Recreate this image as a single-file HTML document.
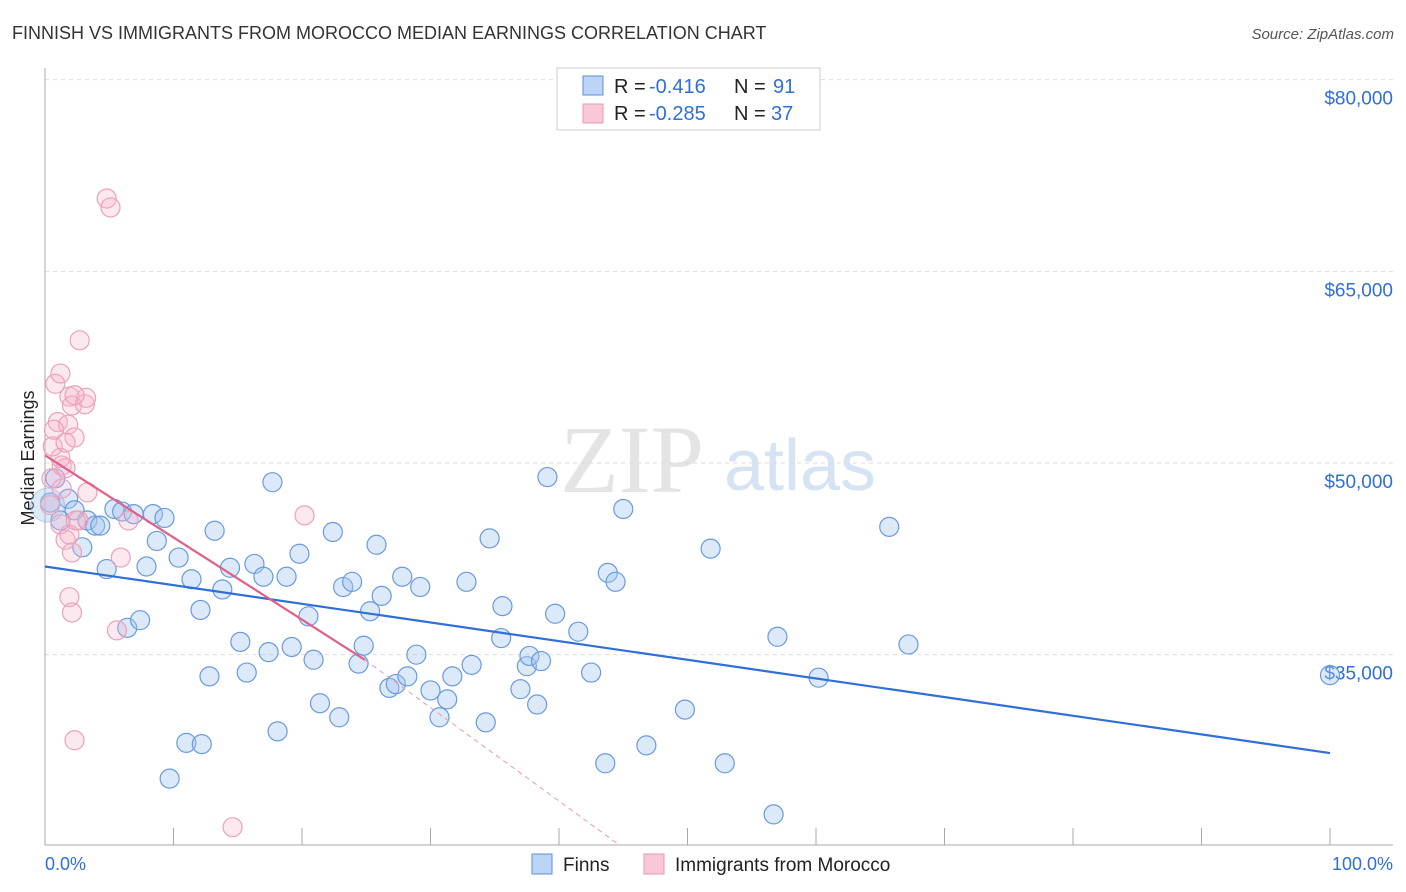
<!DOCTYPE html>
<html><head><meta charset="utf-8"><style>
body{margin:0;background:#fff;font-family:"Liberation Sans",sans-serif;}
#wrap{position:relative;width:1406px;height:892px;overflow:hidden;}
</style></head><body>
<div id="wrap">
<svg id="svg" width="1406" height="892" xmlns="http://www.w3.org/2000/svg">
<text x="12" y="39" font-size="18" fill="#333">FINNISH VS IMMIGRANTS FROM MOROCCO MEDIAN EARNINGS CORRELATION CHART</text>
<text x="1394" y="39" font-size="15" fill="#555" text-anchor="end" font-style="italic">Source: ZipAtlas.com</text>
<text x="0" y="0" font-size="18" fill="#222" transform="translate(34,458) rotate(-90)" text-anchor="middle">Median Earnings</text>
<text x="632" y="492" font-size="96" fill="#e4e4e4" text-anchor="middle" font-family="Liberation Serif,serif">ZIP</text>
<text x="800" y="490" font-size="72" fill="#d6e3f3" text-anchor="middle">atlas</text>
<g id="grid"></g><g id="axes"></g><g id="pts"></g><g id="trend"></g>
<g>
<rect x="557" y="68" width="263" height="62" fill="#fff" stroke="#ccc"/>
<rect x="583" y="76" width="20" height="19" fill="#bcd4f5" stroke="#5b8fd8"/>
<rect x="583" y="104" width="20" height="19" fill="#f9c8d6" stroke="#e89ab0"/>
<text y="93" font-size="20" fill="#222"><tspan x="614">R =</tspan><tspan x="649" fill="#2f6fd6">-0.416</tspan><tspan x="734">N =</tspan><tspan x="773" fill="#2f6fd6">91</tspan></text>
<text y="120" font-size="20" fill="#222"><tspan x="614">R =</tspan><tspan x="649" fill="#2f6fd6">-0.285</tspan><tspan x="734">N =</tspan><tspan x="771" fill="#2f6fd6">37</tspan></text>
</g>
<g>
<rect x="532" y="854" width="20" height="20" fill="#bcd4f5" stroke="#5b8fd8"/>
<text x="563" y="871" font-size="19" fill="#222">Finns</text>
<rect x="644" y="854" width="20" height="20" fill="#f9c8d6" stroke="#e89ab0"/>
<text x="675" y="871" font-size="19" fill="#222">Immigrants from Morocco</text>
</g>
<text x="45" y="870" font-size="18" fill="#2f6fd6">0.0%</text>
<text x="1393" y="870" font-size="18" fill="#2f6fd6" text-anchor="end">100.0%</text>
</svg>
</div>
<script>
const yTicks=[35000,50000,65000,80000];
const yTickLabels=["$35,000","$50,000","$65,000","$80,000"];
const xTicks=[0,10,20,30,40,50,60,70,80,90,100];
const finnsX=[0.4,0.8,1.2,1.8,2.3,3.3,3.9,4.3,2.9,4.8,5.4,6.0,6.4,6.9,7.4,7.9,8.4,8.7,9.3,9.7,10.4,11.0,11.4,12.1,12.2,12.8,13.2,13.8,14.4,15.2,15.7,16.3,17.0,17.4,17.7,18.1,18.8,19.2,19.8,20.5,20.9,21.4,22.4,22.9,23.2,23.9,24.4,24.8,25.3,25.8,26.2,26.8,27.3,27.8,28.2,28.9,29.2,30.0,30.7,31.3,31.7,32.8,33.2,34.3,34.6,35.6,35.5,37.0,37.5,37.7,38.3,38.6,39.1,39.7,41.5,42.5,43.6,43.8,44.4,45.0,46.8,49.8,51.8,52.9,57.0,56.7,60.2,65.7,67.2,100,0.2];
const finnsY=[46900,48800,45500,47200,46300,45500,45100,45100,43400,41700,46400,46200,37100,46000,37700,41900,46000,43900,45700,25300,42600,28100,40900,38500,28000,33300,44700,40100,41800,36000,33600,42100,41100,35200,48500,29000,41100,35600,42900,38000,34600,31200,44600,30100,40300,40700,34300,35700,38400,43600,39600,32400,32700,41100,33300,35000,40300,32200,30100,31500,33300,40700,34200,29700,44100,38800,36300,32300,34100,34900,31100,34500,48900,38200,36800,33600,26500,41400,40700,46400,27900,30700,43300,26500,36400,22500,33200,45000,35800,33400,46700];
const moroccoX=[0.4,0.5,0.8,1.0,1.2,1.3,1.2,1.3,1.9,1.8,2.1,2.3,2.1,1.9,2.3,2.1,2.6,3.1,3.2,3.3,2.7,4.8,5.1,5.6,5.9,6.5,20.2,14.6,1.6,1.2,0.6,1.6,1.9,2.4,0.7,1.6,2.3];
const moroccoY=[46700,48800,56200,53200,57000,49800,45200,48000,55200,53000,54500,52000,38300,39500,28300,43000,45500,54600,55100,47700,59600,70700,70000,36900,42600,45500,45900,21500,49600,50400,51300,44000,44400,45500,52600,51600,55300];
const finnsTrend=[41900,27300];
const moroccoTrend=[50600,-643];
const NS="http://www.w3.org/2000/svg";
const X=p=>45+p*12.85, Y=v=>463-(v-50000)*0.012778;
function mk(t,a,par){const e=document.createElementNS(NS,t);for(const k in a)e.setAttribute(k,a[k]);document.getElementById(par).appendChild(e);return e;}
yTicks.forEach((v,i)=>{
 const g=mk('line',{x1:45,x2:1393,y1:Y(v),y2:Y(v),stroke:'#ddd','stroke-dasharray':'4,4'},'grid');
 
 
 const t=mk('text',{x:1393,y:Y(v)+25,'font-size':19,fill:'#2f6fd6','text-anchor':'end'},'grid');
 t.textContent=yTickLabels[i];
 
 
});
const ax=mk('line',{x1:45,x2:45,y1:68,y2:845,stroke:'#aaa'},'axes');


const bx=mk('line',{x1:45,x2:1393,y1:845,y2:845,stroke:'#aaa'},'axes');


xTicks.forEach(p=>{
 const t=mk('line',{x1:X(p),x2:X(p),y1:828,y2:845,stroke:'#aaa'},'axes');
 
 
});
finnsX.forEach((p,i)=>{
 const c=mk('circle',{cx:X(p),cy:Y(finnsY[i]),r:(i===finnsX.length-1?17:9.5),fill:'rgba(160,196,240,0.38)',stroke:(i===finnsX.length-1?'rgba(91,143,216,0.3)':'#6a9ade'),'stroke-width':1.2},'pts');
 
 
});
moroccoX.forEach((p,i)=>{
 const c=mk('circle',{cx:X(p),cy:Y(moroccoY[i]),r:9.5,fill:'rgba(246,180,202,0.3)',stroke:'#eca2b9','stroke-width':1.2},'pts');
 
 
});
const bl=mk('line',{x1:X(0),y1:Y(finnsTrend[0]),x2:X(100),y2:Y(finnsTrend[1]),stroke:'#2f6fd6','stroke-width':2.2},'trend');


const mEnd=24.9, mLim=44.7;
const pl=mk('line',{x1:X(0),y1:Y(moroccoTrend[0]),x2:X(mEnd),y2:Y(moroccoTrend[0]+moroccoTrend[1]*mEnd),stroke:'#e0608a','stroke-width':2.2},'trend');


const pd=mk('line',{x1:X(mEnd),y1:Y(moroccoTrend[0]+moroccoTrend[1]*mEnd),x2:X(mLim),y2:845,stroke:'#e89ab0','stroke-width':1,'stroke-dasharray':'5,4'},'trend');


</script>
</body></html>
